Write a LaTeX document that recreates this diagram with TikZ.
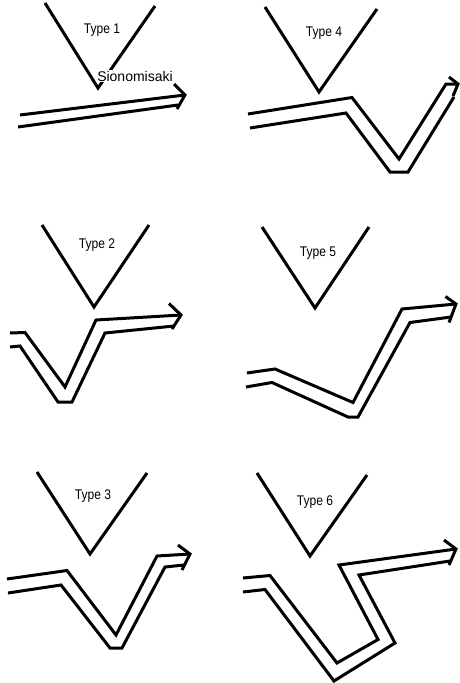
\documentclass[tikz,border=0pt]{standalone}
\usepackage{fontspec}
\setmainfont{Liberation Sans}
\newcommand{\narrowtxt}[1]{\scalebox{0.86}[1]{#1}}
\begin{document}
\begin{tikzpicture}[x=1pt,y=-1pt,
  vee/.style={line width=3pt, line join=miter},
  band/.style={line width=3pt, line join=miter},
  barb/.style={line width=3pt, line join=miter},
  lbl/.style={font=\fontsize{14}{14}\selectfont, inner sep=0.5pt},
  sio/.style={font=\fontsize{14}{14}\selectfont, inner sep=0.6pt, fill=white}]
\useasboundingbox (0,0) rectangle (460,683);

% ---------- Type 1 ----------
\draw[vee] (45,3) -- (98,88) -- (155,6);
\node[lbl] (t1) at (102,30) {\narrowtxt{Type 1}};
\node[sio] (s1) at (135,76) {Sionomisaki};
\draw[band] (20,115) -- (185,95);
\draw[band] (18,127) -- (178,105);
\draw[barb] (174,84) -- (185,95) -- (177,109);

% ---------- Type 2 ----------
\draw[vee] (42,225) -- (94,307) -- (149,225);
\node[lbl] (t2) at (97,245) {\narrowtxt{Type 2}};
\draw[band] (10,333) -- (25,332.5) -- (65,387) -- (96,320) -- (181,315);
\draw[band] (10,347) -- (20,346) -- (58,402) -- (72,402) -- (105,333) -- (174,326);
\draw[barb] (169,303.5) -- (181,315) -- (172,329);

% ---------- Type 3 ----------
\draw[vee] (37,472) -- (90,554) -- (147,473);
\node[lbl] (t3) at (93,496) {\narrowtxt{Type 3}};
\draw[band] (7,579) -- (67,570.5) -- (116,635) -- (157,556) -- (190,554);
\draw[band] (8,593) -- (61,585) -- (110,648) -- (122,648) -- (165,567) -- (184,565);
\draw[barb] (178,545) -- (190,554) -- (182,570);

% ---------- Type 4 ----------
\draw[vee] (265,7) -- (319,92) -- (377,9);
\node[lbl] (t4) at (324,33) {\narrowtxt{Type 4}};
\draw[band] (248,114) -- (352,97.5) -- (399,159) -- (446,84) -- (458,84);
\draw[band] (250,128) -- (346,113) -- (390,172) -- (408,172) -- (454,97);
\draw[barb] (449,77) -- (458,84) -- (453,96);

% ---------- Type 5 ----------
\draw[vee] (262,227) -- (315,308) -- (369,227);
\node[lbl] (t5) at (318,253) {\narrowtxt{Type 5}};
\draw[band] (247,373) -- (275,369) -- (353,402.5) -- (402,309) -- (456,304);
\draw[band] (246,387) -- (272,382.5) -- (348,417) -- (358,417) -- (410,322.5) -- (451,317);
\draw[barb] (445.5,296.5) -- (456,304) -- (449,322.5);

% ---------- Type 6 ----------
\draw[vee] (257,473) -- (310,556) -- (367,475);
\node[lbl] (t6) at (315,502) {\narrowtxt{Type 6}};
\draw[band] (243,578) -- (270,575.5) -- (337,663) -- (378,639.5) -- (339,565) -- (456,549);
\draw[band] (243,592) -- (265,589.5) -- (334,681) -- (395,643) -- (359,575) -- (450,561);
\draw[barb] (444,540) -- (456,549) -- (449,565);
\end{tikzpicture}
\end{document}
